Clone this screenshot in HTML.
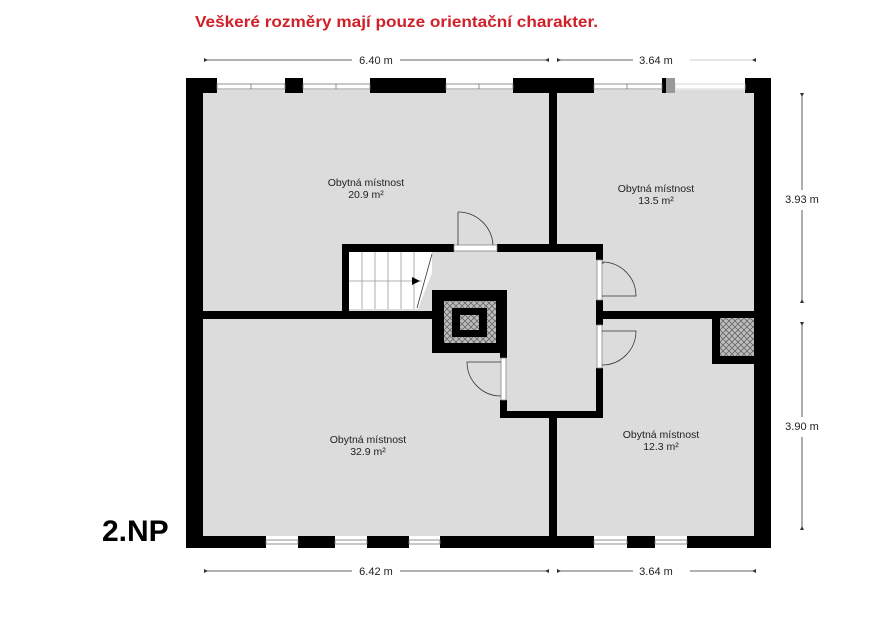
<!DOCTYPE html>
<html><head><meta charset="utf-8"><style>
html,body{margin:0;padding:0;background:#fff;}
svg{display:block;font-family:"Liberation Sans",sans-serif;}
</style></head><body>
<svg width="894" height="625" viewBox="0 0 894 625" xmlns="http://www.w3.org/2000/svg">
<defs>
<pattern id="h" width="6" height="6" patternUnits="userSpaceOnUse">
<rect width="6" height="6" fill="#bdbdbd"/>
<path d="M0 0L6 6M6 0L0 6" stroke="#666" stroke-width="0.8"/>
</pattern>
</defs>
<text x="195" y="27" font-size="15.5" font-weight="bold" fill="#d0202a" textLength="403" lengthAdjust="spacingAndGlyphs">Veškeré rozměry mají pouze orientační charakter.</text>

<!-- floor -->
<rect x="200" y="90" width="556" height="448" fill="#dcdcdc"/>

<!-- stair -->
<rect x="349" y="252" width="83" height="57" fill="#fff"/>
<g stroke="#999" stroke-width="0.8">
<line x1="362" y1="252" x2="362" y2="309"/><line x1="375" y1="252" x2="375" y2="309"/>
<line x1="388" y1="252" x2="388" y2="309"/><line x1="401" y1="252" x2="401" y2="309"/>
<line x1="414" y1="252" x2="414" y2="309"/><line x1="349" y1="281" x2="422" y2="281"/>
</g>
<polygon points="432,252 440,252 418,309 432,309" fill="#dcdcdc"/>
<line x1="432" y1="254" x2="417" y2="308" stroke="#333" stroke-width="0.8"/>
<polygon points="412,277 420,281 412,285" fill="#000"/>

<g fill="#000">
<!-- outer walls -->
<rect x="186" y="78" width="17" height="470"/>
<rect x="754" y="78" width="17" height="470"/>
<rect x="186" y="536" width="585" height="12"/>
<!-- top wall segments -->
<rect x="186" y="78" width="31" height="15"/>
<rect x="285" y="78" width="18" height="15"/>
<rect x="370" y="78" width="76" height="15"/>
<rect x="513" y="78" width="81" height="15"/>
<rect x="662" y="78" width="4" height="15"/>
<rect x="745" y="78" width="26" height="15"/>
<!-- bottom wall segments cut by windows later -->
<!-- inner walls -->
<rect x="549" y="90" width="8" height="155"/>
<rect x="549" y="418" width="8" height="120"/>
<rect x="200" y="311" width="232" height="8"/>
<rect x="603" y="311" width="152" height="8"/>
<rect x="342" y="244" width="7" height="75"/>
<rect x="342" y="244" width="112" height="8"/>
<rect x="497" y="244" width="106" height="8"/>
<rect x="596" y="244" width="7" height="16"/>
<rect x="596" y="300" width="7" height="25"/>
<rect x="596" y="368" width="7" height="50"/>
<rect x="500" y="411" width="103" height="7"/>
<rect x="500" y="400" width="7" height="18"/>
<rect x="500" y="350" width="7" height="8"/>
<!-- chimney -->
<rect x="432" y="290" width="75" height="63"/>
<rect x="712" y="312" width="42" height="52"/>
</g>
<rect x="444" y="301" width="52" height="42" fill="url(#h)"/>
<rect x="452" y="308" width="35" height="29" fill="#000"/>
<rect x="460" y="315" width="19" height="15" fill="url(#h)"/>
<rect x="720" y="318" width="34" height="38" fill="url(#h)"/>

<!-- windows top -->
<g fill="#fff" stroke="#777" stroke-width="0.8">
<rect x="217" y="84" width="68" height="5"/>
<rect x="303" y="84" width="67" height="5"/>
<rect x="446" y="84" width="67" height="5"/>
<rect x="594" y="84" width="68" height="5"/>
<rect x="675" y="84" width="70" height="5" stroke="#ccc"/>
</g>
<rect x="666" y="78" width="9" height="15" fill="#999"/>
<g stroke="#777" stroke-width="0.8">
<line x1="251" y1="84" x2="251" y2="89"/><line x1="336" y1="84" x2="336" y2="89"/>
<line x1="479" y1="84" x2="479" y2="89"/><line x1="627" y1="84" x2="627" y2="89"/>
</g>
<!-- windows bottom -->
<g fill="#fff" stroke="#777" stroke-width="0.8">
<rect x="266" y="536" width="32" height="12" stroke="none"/>
<rect x="335" y="536" width="32" height="12" stroke="none"/>
<rect x="409" y="536" width="31" height="12" stroke="none"/>
<rect x="594" y="536" width="33" height="12" stroke="none"/>
<rect x="655" y="536" width="32" height="12" stroke="none"/>
<rect x="266" y="540" width="32" height="4"/>
<rect x="335" y="540" width="32" height="4"/>
<rect x="409" y="540" width="31" height="4"/>
<rect x="594" y="540" width="33" height="4"/>
<rect x="655" y="540" width="32" height="4"/>
</g>

<!-- doors -->
<g fill="none" stroke="#333" stroke-width="0.8">
<rect x="454" y="245" width="43" height="6" fill="#fff" stroke="#888"/>
<line x1="458" y1="245" x2="458" y2="212"/><path d="M458 212 A35 35 0 0 1 493 245"/>
<rect x="597" y="260" width="5" height="40" fill="#fff" stroke="#888"/>
<line x1="603" y1="264" x2="603" y2="262"/><path d="M602 262 A34 34 0 0 1 636 296 L602 296"/>
<rect x="597" y="325" width="5" height="43" fill="#fff" stroke="#888"/>
<path d="M602 365 A34 34 0 0 0 636 331 L602 331"/>
<rect x="501" y="358" width="5" height="42" fill="#fff" stroke="#888"/>
<path d="M501 396 A34 34 0 0 1 467 362 L501 362"/>
</g>

<!-- labels -->
<g font-size="10.5" text-anchor="middle" fill="#222">
<text x="366" y="186">Obytná místnost</text><text x="366" y="198">20.9 m²</text>
<text x="656" y="192">Obytná místnost</text><text x="656" y="204">13.5 m²</text>
<text x="368" y="443">Obytná místnost</text><text x="368" y="455">32.9 m²</text>
<text x="661" y="438">Obytná místnost</text><text x="661" y="450">12.3 m²</text>
</g>

<!-- dimensions -->
<g stroke="#333" stroke-width="0.8">
<line x1="204" y1="60" x2="352" y2="60"/><line x1="400" y1="60" x2="549" y2="60"/>
<line x1="557" y1="60" x2="633" y2="60"/><line x1="690" y1="60" x2="756" y2="60" stroke="#bbb"/>
<line x1="204" y1="571" x2="352" y2="571"/><line x1="400" y1="571" x2="549" y2="571"/>
<line x1="557" y1="571" x2="633" y2="571"/><line x1="690" y1="571" x2="756" y2="571"/>
<line x1="802" y1="93" x2="802" y2="190"/><line x1="802" y1="210" x2="802" y2="303"/>
<line x1="802" y1="322" x2="802" y2="417"/><line x1="802" y1="437" x2="802" y2="530"/>
</g>
<g fill="#333">
<path d="M204 58v4l4-2z"/><path d="M549 58v4l-4-2z"/><path d="M557 58v4l4-2z"/><path d="M756 58v4l-4-2z"/>
<path d="M204 569v4l4-2z"/><path d="M549 569v4l-4-2z"/><path d="M557 569v4l4-2z"/><path d="M756 569v4l-4-2z"/>
<path d="M800 93h4l-2 4z"/><path d="M800 303h4l-2-4z"/><path d="M800 322h4l-2 4z"/><path d="M800 530h4l-2-4z"/>
</g>
<g font-size="11" fill="#222" text-anchor="middle">
<text x="376" y="64">6.40 m</text><text x="656" y="64">3.64 m</text>
<text x="376" y="575">6.42 m</text><text x="656" y="575">3.64 m</text>
<text x="802" y="203">3.93 m</text><text x="802" y="430">3.90 m</text>
</g>
<text x="102" y="541" font-size="30" font-weight="bold" fill="#000">2.NP</text>
</svg>
</body></html>
